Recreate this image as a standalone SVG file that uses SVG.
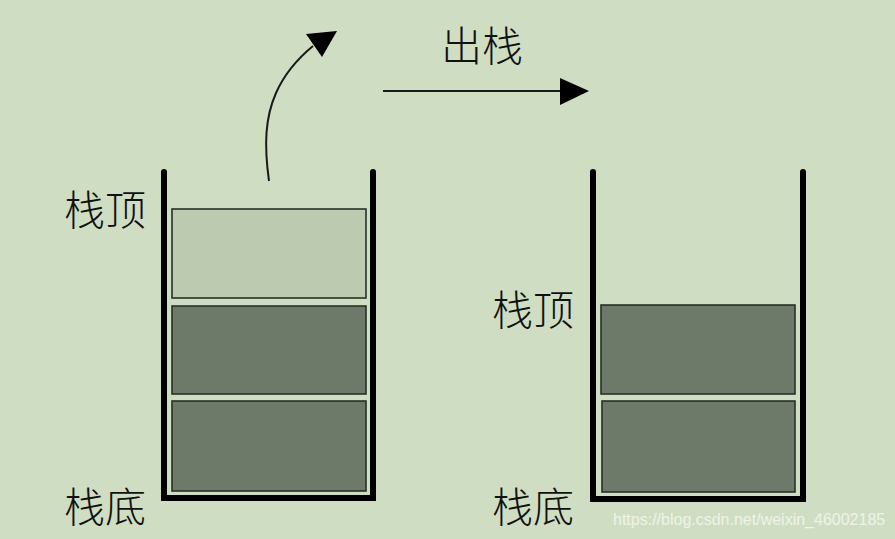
<svg xmlns="http://www.w3.org/2000/svg" width="895" height="539" viewBox="0 0 895 539">
<style>
.wall{fill:none;stroke:#000;stroke-width:6;stroke-linecap:round;stroke-linejoin:miter}
.light{fill:#bccab0;stroke:#2a2f28;stroke-width:1.6}
.dark{fill:#6e7a69;stroke:#2a2f28;stroke-width:1.6}
.lbl{font-family:"Noto Sans CJK SC","Noto Sans",sans-serif;font-size:41px;fill:#111;font-weight:300}
.wm{font-family:"Liberation Sans",Arial,sans-serif;font-size:16px;fill:#eef3e8}
</style>
<rect width="895" height="539" fill="#cfdec3"/>
<g id="stack-left">
<path class="wall" d="M164,172 L164,498 L373,498 L373,172"/>
<rect class="light" x="172" y="209" width="194" height="89"/>
<rect class="dark" x="172" y="306" width="194" height="88"/>
<rect class="dark" x="172" y="401" width="194" height="90"/>
</g>
<g id="stack-right">
<path class="wall" d="M593,172 L593,499 L803,499 L803,172"/>
<rect class="dark" x="601" y="305" width="194" height="89"/>
<rect class="dark" x="602" y="401" width="193" height="91"/>
</g>
<g id="labels">
<text class="lbl" x="64" y="225">栈顶</text>
<text class="lbl" x="64" y="522">栈底</text>
<text class="lbl" x="492" y="325">栈顶</text>
<text class="lbl" x="492" y="522">栈底</text>
<text class="lbl" x="441" y="61">出栈</text>
</g>
<g id="connectors">
<path d="M269,181 C264,145 265,118 276,93 C284,75 296,60 313,46" fill="none" stroke="#1a1a1a" stroke-width="2"/>
<polygon points="306,34 337,31 322,57" fill="#000"/>
<line x1="383" y1="91" x2="562" y2="91" stroke="#1a1a1a" stroke-width="2"/>
<polygon points="560,78 589,91 560,105" fill="#000"/>
</g>
<text class="wm" x="613" y="525">https://blog.csdn.net/weixin_46002185</text>
</svg>
